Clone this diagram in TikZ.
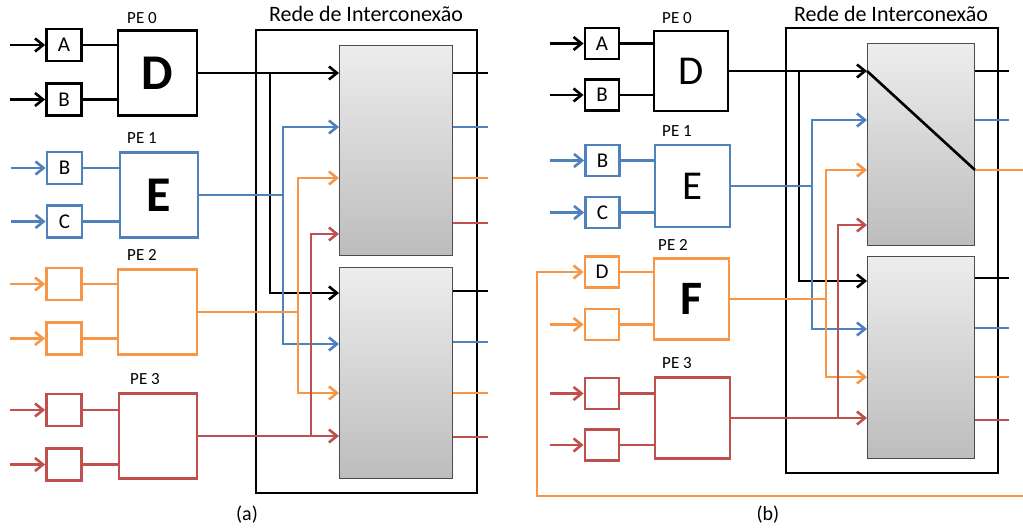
\documentclass[tikz,border=0pt]{standalone}
\usepackage{fontspec}
\setmainfont{Carlito}
\usetikzlibrary{arrows.meta}
\definecolor{blu}{HTML}{4F81BD}
\definecolor{org}{HTML}{F79646}
\definecolor{rd}{HTML}{C0504D}
\begin{document}
\begin{tikzpicture}[x=1pt,y=-1pt,
  wire/.style={line width=2.6pt},
  arr/.style={line width=2.6pt,-{Straight Barb[length=8pt,width=13pt]}},
  inb/.style={draw,line width=2.8pt,inner sep=0pt,minimum width=35pt,minimum height=32pt,text=black,font=\fontsize{21}{24}\selectfont},
  peb/.style={draw,line width=2.8pt,inner sep=0pt,minimum width=78pt,minimum height=85pt,text=black},
  netb/.style={draw,line width=2.8pt,inner sep=0pt},
  grayb/.style={draw=black!70,line width=1pt,top color=black!7,bottom color=black!26,inner sep=0pt},
  pel/.style={font=\fontsize{17}{20}\selectfont},
  ttl/.style={font=\fontsize{22}{26}\selectfont},
  capl/.style={font=\fontsize{20}{24}\selectfont},
  bigb/.style={font=\fontsize{50}{60}\selectfont\bfseries},
  bigr/.style={font=\fontsize{41}{50}\selectfont}
]
\useasboundingbox (0,0) rectangle (1023,529);

% ================= (a) =================
\node[netb,minimum width=221pt,minimum height=463pt] (aN) at (366.5,261.5) {};
\node[ttl] (aT) at (366,14) {Rede de Interconexão};
\node[grayb,minimum width=113pt,minimum height=210pt] (aU) at (396,150.5) {};
\node[grayb,minimum width=113pt,minimum height=211pt] (aL) at (396,373) {};
\node[capl] (aC) at (247,515) {(a)};

% PE 0
\node[inb] (aA) at (64,45) {A};
\node[inb] (aB) at (64,99.5) {B};
\node[peb,minimum width=79pt] (aD) at (157.5,73) {};
\node[bigb] (aDt) at (aD) {D};
\node[pel] (aP0) at (142,18) {PE 0};
\draw[arr] ([xshift=-35pt]aA.west) -- (aA.west);
\draw[arr] ([xshift=-35pt]aB.west) -- (aB.west);
\draw[wire] (aA.east) -- (aA.east -| aD.west);
\draw[wire] (aB.east) -- (aB.east -| aD.west);

% PE 1
\node[inb,draw=blu] (aB1) at (64.5,168) {B};
\node[inb,draw=blu] (aC1) at (64.5,221.5) {C};
\node[peb,draw=blu] (aE) at (159,195) {};
\node[bigb] (aEt) at (aE) {E};
\node[pel] (aP1) at (142,138) {PE 1};
\draw[arr,blu] ([xshift=-35pt]aB1.west) -- (aB1.west);
\draw[arr,blu] ([xshift=-35pt]aC1.west) -- (aC1.west);
\draw[wire,blu] (aB1.east) -- (aB1.east -| aE.west);
\draw[wire,blu] (aC1.east) -- (aC1.east -| aE.west);

% PE 2
\node[inb,draw=org] (aO1) at (64,284) {};
\node[inb,draw=org] (aO2) at (64,338.5) {};
\node[peb,draw=org,minimum width=79pt] (aF) at (157.5,312) {};
\node[pel] (aP2) at (142,255) {PE 2};
\draw[arr,org] ([xshift=-35pt]aO1.west) -- (aO1.west);
\draw[arr,org] ([xshift=-35pt]aO2.west) -- (aO2.west);
\draw[wire,org] (aO1.east) -- (aO1.east -| aF.west);
\draw[wire,org] (aO2.east) -- (aO2.east -| aF.west);

% PE 3
\node[inb,draw=rd] (aR1) at (64,410) {};
\node[inb,draw=rd] (aR2) at (64,464.5) {};
\node[peb,draw=rd] (aG) at (158,436) {};
\node[pel] (aP3) at (145,379) {PE 3};
\draw[arr,rd] ([xshift=-35pt]aR1.west) -- (aR1.west);
\draw[arr,rd] ([xshift=-35pt]aR2.west) -- (aR2.west);
\draw[wire,rd] (aR1.east) -- (aR1.east -| aG.west);
\draw[wire,rd] (aR2.east) -- (aR2.east -| aG.west);

% network wiring (a)
\coordinate (aJ0) at (270,73);
\coordinate (aJ1) at (283,195);
\coordinate (aJ2) at (298,312);
\coordinate (aJ3) at (311,436);
\coordinate (au1) at (339,127);
\coordinate (au2) at (339,178);
\coordinate (au3) at (339,234);
\coordinate (al0) at (339,293);
\coordinate (al1) at (339,344);
\coordinate (al2) at (339,393);
\draw[arr] (aD.east) -- (aD.east -| aU.west);
\draw[arr] (aJ0) |- (al0);
\draw[wire,blu] (aE.east) -- (aJ1);
\draw[arr,blu] (aJ1) |- (au1);
\draw[arr,blu] (aJ1) |- (al1);
\draw[wire,org] (aF.east) -- (aJ2);
\draw[arr,org] (aJ2) |- (au2);
\draw[arr,org] (aJ2) |- (al2);
\draw[arr,rd] (aG.east) -- (aG.east -| aL.west);
\draw[arr,rd] (aJ3) |- (au3);
\foreach \y/\c in {73/black,127/blu,178/org,223/rd}
  \draw[wire,\c] (aU.east |- 0,\y) -- ++(35,0);
\foreach \y/\c in {291/black,342/blu,393/org,437/rd}
  \draw[wire,\c] (aL.east |- 0,\y) -- ++(35,0);

% ================= (b) =================
\node[netb,minimum width=212pt,minimum height=445pt] (bN) at (892,250.5) {};
\node[ttl] (bT) at (891,14) {Rede de Interconexão};
\node[grayb,minimum width=107pt,minimum height=202pt] (bU) at (921,144.5) {};
\node[grayb,minimum width=107pt,minimum height=202pt] (bL) at (921,357.5) {};
\node[capl] (bC) at (768,515) {(b)};

% PE 0
\node[inb,minimum width=34pt,minimum height=31pt] (bA) at (602,43.5) {A};
\node[inb,minimum width=34pt,minimum height=31pt] (bB) at (602,95) {B};
\node[peb,minimum width=74pt,minimum height=80pt] (bD) at (691,71) {};
\node[bigr] (bDt) at (bD) {D};
\node[pel] (bP0) at (677,18) {PE 0};
\draw[arr] ([xshift=-34pt]bA.west) -- (bA.west);
\draw[arr] ([xshift=-34pt]bB.west) -- (bB.west);
\draw[wire] (bA.east) -- (bA.east -| bD.west);
\draw[wire] (bB.east) -- (bB.east -| bD.west);

% PE 1
\node[inb,draw=blu,minimum width=34pt,minimum height=31pt] (bB1) at (602.5,160.5) {B};
\node[inb,draw=blu,minimum width=34pt,minimum height=31pt] (bC1) at (602.5,212.5) {C};
\node[peb,draw=blu,minimum width=75pt,minimum height=82pt] (bE) at (692.5,186) {};
\node[bigr] (bEt) at (bE) {E};
\node[pel] (bP1) at (677,131) {PE 1};
\draw[arr,blu] ([xshift=-34pt]bB1.west) -- (bB1.west);
\draw[arr,blu] ([xshift=-34pt]bC1.west) -- (bC1.west);
\draw[wire,blu] (bB1.east) -- (bB1.east -| bE.west);
\draw[wire,blu] (bC1.east) -- (bC1.east -| bE.west);

% PE 2
\node[inb,draw=org,minimum width=34pt,minimum height=31pt] (bO1) at (602,272) {D};
\node[inb,draw=org,minimum width=34pt,minimum height=31pt] (bO2) at (602,324.5) {};
\node[peb,draw=org,minimum width=75pt,minimum height=81pt] (bF) at (691.5,299) {};
\node[font=\fontsize{48}{58}\selectfont\bfseries] (bFt) at (bF) {F};
\node[pel] (bP2) at (673,245) {PE 2};
\draw[arr,org] ([xshift=-34pt]bO2.west) -- (bO2.west);
\draw[wire,org] (bO1.east) -- (bO1.east -| bF.west);
\draw[wire,org] (bO2.east) -- (bO2.east -| bF.west);

% PE 3
\node[inb,draw=rd,minimum width=34pt,minimum height=31pt] (bR1) at (602,393.5) {};
\node[inb,draw=rd,minimum width=34pt,minimum height=31pt] (bR2) at (602,445) {};
\node[peb,draw=rd,minimum width=75pt,minimum height=81pt] (bG) at (692.5,418) {};
\node[pel] (bP3) at (677,363) {PE 3};
\draw[arr,rd] ([xshift=-34pt]bR1.west) -- (bR1.west);
\draw[arr,rd] ([xshift=-34pt]bR2.west) -- (bR2.west);
\draw[wire,rd] (bR1.east) -- (bR1.east -| bG.west);
\draw[wire,rd] (bR2.east) -- (bR2.east -| bG.west);

% network wiring (b)
\coordinate (bJ0) at (799,71);
\coordinate (bJ1) at (812,186);
\coordinate (bJ2) at (826,299);
\coordinate (bJ3) at (838,418);
\coordinate (bu0) at (867,71);
\coordinate (bu1) at (867,120);
\coordinate (bu2) at (867,170);
\coordinate (bu3) at (867,225);
\coordinate (bl0) at (867,281);
\coordinate (bl1) at (867,329);
\coordinate (bl2) at (867,377);
\coordinate (bo2) at (975,170);
\coordinate (bX) at (1030,170);
\coordinate (bF1) at (1030,496);
\coordinate (bF2) at (537,496);
\draw[arr] (bD.east) -- (bu0);
\draw[arr] (bJ0) |- (bl0);
\draw[wire,blu] (bE.east) -- (bJ1);
\draw[arr,blu] (bJ1) |- (bu1);
\draw[arr,blu] (bJ1) |- (bl1);
\draw[wire,org] (bF.east) -- (bJ2);
\draw[arr,org] (bJ2) |- (bu2);
\draw[arr,org] (bJ2) |- (bl2);
\draw[arr,rd] (bG.east) -- (bG.east -| bL.west);
\draw[arr,rd] (bJ3) |- (bu3);
\draw[wire] (bu0) -- (bo2);
\foreach \y/\c in {71/black,120/blu}
  \draw[wire,\c] (bU.east |- 0,\y) -- ++(34,0);
\draw[wire,org] (bo2) -- (bX);
\foreach \y/\c in {278/black,328/blu,377/org,420/rd}
  \draw[wire,\c] (bL.east |- 0,\y) -- ++(34,0);
\draw[arr,org] (bF1) -- (bF2) |- (bO1.west);
\end{tikzpicture}
\end{document}
